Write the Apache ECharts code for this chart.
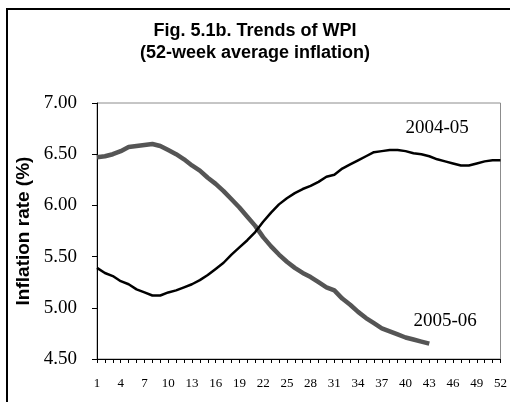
<!DOCTYPE html>
<html>
<head>
<meta charset="utf-8">
<script src="https://cdn.jsdelivr.net/npm/echarts@6/dist/echarts.min.js"></script>
<style>
  html, body { margin: 0; padding: 0; background: #fff; }
  #main { width: 510px; height: 402px; }
</style>
</head>
<body>
<div id="main"></div>
<script>
var myChart = echarts.init(document.getElementById('main'));

// weeks 1..52
var weeks = [];
for (var w = 1; w <= 52; w++) weeks.push(String(w));

// 52-week average inflation, 2004-05 (black)
var wpi0405 = [5.39, 5.34, 5.31, 5.26, 5.23, 5.18, 5.15, 5.12, 5.12, 5.15,
               5.17, 5.20, 5.23, 5.27, 5.32, 5.38, 5.44, 5.52, 5.59, 5.66,
               5.74, 5.84, 5.93, 6.01, 6.07, 6.12, 6.16, 6.19, 6.23, 6.28,
               6.30, 6.36, 6.40, 6.44, 6.48, 6.52, 6.53, 6.54, 6.54, 6.53,
               6.51, 6.50, 6.48, 6.45, 6.43, 6.41, 6.39, 6.39, 6.41, 6.43,
               6.44, 6.44];

// 2005-06 (grey), only up to week 43
var wpi0506 = [6.47, 6.48, 6.50, 6.53, 6.57, 6.58, 6.59, 6.60, 6.58, 6.54,
               6.50, 6.45, 6.39, 6.34, 6.27, 6.21, 6.14, 6.06, 5.98, 5.89,
               5.80, 5.69, 5.60, 5.52, 5.45, 5.39, 5.34, 5.30, 5.25, 5.20,
               5.17, 5.09, 5.03, 4.96, 4.90, 4.85, 4.80, 4.77, 4.74, 4.71,
               4.69, 4.67, 4.65];

// where the series names sit (week, value)
var label0405 = ['44', 6.76];
var label0506 = ['45', 4.87];

var serif = "'Liberation Serif', 'Times New Roman', serif";
var sans = "'Liberation Sans', Arial, sans-serif";

function nameMark(text, coord) {
    return {
        symbol: 'rect',
        symbolSize: 1,
        itemStyle: { color: 'rgba(0,0,0,0)' },
        label: {
            show: true,
            position: 'inside',
            formatter: text,
            fontFamily: serif,
            fontSize: 19,
            color: '#000'
        },
        data: [{ coord: coord }]
    };
}

var option = {
    animation: false,
    backgroundColor: '#fff',
    title: {
        text: 'Fig. 5.1b. Trends of WPI\n(52-week average inflation)',
        left: 'center',
        top: 15,
        textStyle: {
            fontFamily: sans,
            fontSize: 18,
            fontWeight: 'bold',
            color: '#000',
            lineHeight: 22
        }
    },
    graphic: [{
        type: 'rect',
        shape: { x: 7, y: 9, width: 520, height: 420 },
        style: { fill: 'none', stroke: '#000', lineWidth: 2 },
        silent: true
    }],
    grid: {
        left: 97,
        right: 6,
        top: 103,
        bottom: 43,
        show: true,
        borderColor: '#8c8c8c',
        borderWidth: 1
    },
    xAxis: {
        type: 'category',
        boundaryGap: false,
        data: weeks,
        axisLine: { lineStyle: { color: '#000', width: 1 } },
        axisTick: { interval: 0, length: 4, lineStyle: { color: '#000' } },
        axisLabel: {
            interval: 2,
            margin: 18,
            fontFamily: serif,
            fontSize: 13,
            color: '#000'
        },
        splitLine: { show: false }
    },
    yAxis: {
        type: 'value',
        min: 4.5,
        max: 7,
        interval: 0.5,
        name: 'Inflation rate (%)',
        nameLocation: 'middle',
        nameRotate: 90,
        nameGap: 63,
        nameTextStyle: {
            fontFamily: sans,
            fontSize: 19,
            fontWeight: 'bold',
            color: '#000'
        },
        axisLine: { show: true, lineStyle: { color: '#000', width: 1 } },
        axisTick: { show: true, length: 5, lineStyle: { color: '#000' } },
        axisLabel: {
            margin: 20,
            fontFamily: serif,
            fontSize: 19,
            color: '#000',
            formatter: function (v) { return v.toFixed(2); }
        },
        splitLine: { show: false }
    },
    series: [
        {
            name: '2004-05',
            type: 'line',
            data: wpi0405,
            symbol: 'none',
            lineStyle: { color: '#000', width: 2.5 },
            z: 3,
            markPoint: nameMark('2004-05', label0405)
        },
        {
            name: '2005-06',
            type: 'line',
            data: wpi0506,
            symbol: 'none',
            lineStyle: { color: '#555', width: 4.5 },
            z: 2,
            markPoint: nameMark('2005-06', label0506)
        }
    ]
};

myChart.setOption(option);
</script>
</body>
</html>
